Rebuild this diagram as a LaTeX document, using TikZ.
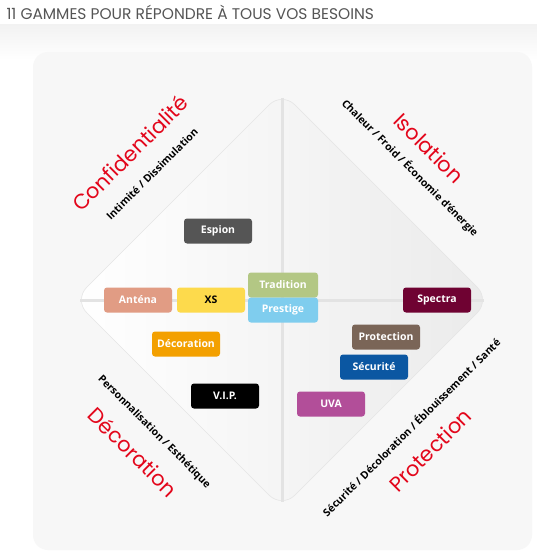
\documentclass[tikz,border=0pt]{standalone}
\usepackage{fontspec}
\setmainfont{Open Sans}
\newfontfamily\gothic{Poppins}
\usepackage{xcolor}
\usetikzlibrary{calc,backgrounds}
\definecolor{rouge}{HTML}{E3061B}
\definecolor{titre}{HTML}{555555}
\definecolor{espion}{HTML}{555555}
\definecolor{antena}{HTML}{E19C84}
\definecolor{xs}{HTML}{FDDA4C}
\definecolor{tradition}{HTML}{B3C784}
\definecolor{prestige}{HTML}{7FCDEE}
\definecolor{spectra}{HTML}{6F0232}
\definecolor{protect}{HTML}{7A6557}
\definecolor{securite}{HTML}{0B57A2}
\definecolor{uva}{HTML}{B24E99}
\definecolor{deco}{HTML}{F3A000}
\tikzstyle{gamme}=[rounded corners=3bp, minimum width=68bp, minimum height=25bp, inner sep=0pt, text=white, font=\bfseries\fontsize{10.5}{11}\selectfont]
\tikzstyle{axe}=[line width=3bp, gray!22, shorten >=6bp, shorten <=6bp]
\tikzstyle{panel}=[fill=black!3, rounded corners=15bp]
\newcommand{\quadrant}[6]{
	\node[rotate=#4, text=rouge, font=\gothic\fontsize{21}{21}\selectfont] (#1) at #2 {#5};
	\node[rotate=#4, font=\bfseries\fontsize{10.5}{10.5}\selectfont] (#1-sub) at #3 {#6};
}

\begin{document}
\begin{tikzpicture}[x=1bp,y=-1bp]
	\useasboundingbox[fill=white] (0,0) rectangle (537,556);
	\fill[top color=black!5, bottom color=white] (0,25) rectangle (537,60);
	\node[anchor=west, text=titre, font=\gothic\fontsize{15.5}{15.5}\selectfont] (titre) at (3,12) {11 GAMMES POUR RÉPONDRE À TOUS VOS BESOINS};
	\fill[panel] (33,52) rectangle (532,550);
%
	\coordinate (N) at (282,92);
	\coordinate (E) at (490,300);
	\coordinate (S) at (282,508);
	\coordinate (W) at (74,300);
	\shade[rounded corners=18bp, left color=white, right color=black!8, draw=black!10, line width=.6bp]
		(N) -- (E) -- (S) -- (W) -- cycle;
	\draw[axe] (N) -- (S);
	\draw[axe] (W) -- (E);
%
	\quadrant{conf}{(130,153)}{(152,174)}{45}{Confidentialité}{Intimité / Dissimulation}
	\quadrant{isol}{(429,148)}{(410,168)}{-45}{Isolation}{Chaleur / Froid / Économie d'énergie}
	\quadrant{deco}{(133,452)}{(154,432)}{-45}{Décoration}{Personnalisation / Esthétique}
	\quadrant{prot}{(430,450)}{(411,427)}{45}{Protection}{Sécurité / Décoloration / Éblouissement / Santé}
%
	\node[gamme, fill=espion] (espion) at (218,231) {Espion};
	\node[gamme, fill=antena] (antena) at (138,300) {Anténa};
	\node[gamme, fill=xs, text=black] (xs) at (211,300) {XS};
	\node[gamme, fill=tradition, minimum width=70bp] (tradition) at (283,285) {Tradition};
	\node[gamme, fill=prestige, minimum width=70bp] (prestige) at (283,310) {Prestige};
	\node[gamme, fill=spectra] (spectra) at (437,300) {Spectra};
	\node[gamme, fill=protect] (protection) at (386,337) {Protection};
	\node[gamme, fill=securite] (securite) at (374,367) {Sécurité};
	\node[gamme, fill=uva] (uva) at (331,404) {UVA};
	\node[gamme, fill=deco] (decoration) at (186,344) {Décoration};
	\node[gamme, fill=black] (vip) at (225,396) {V.I.P.};
\end{tikzpicture}
\end{document}
